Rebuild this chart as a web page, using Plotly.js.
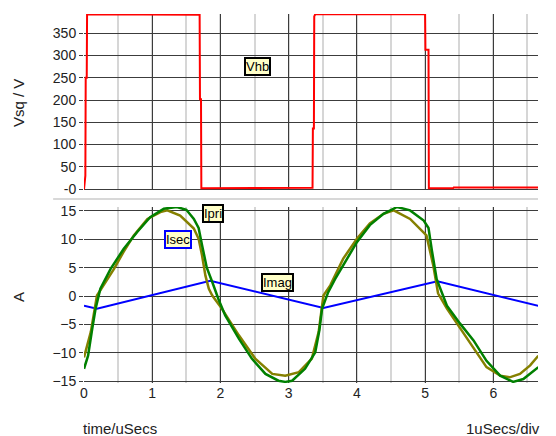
<!DOCTYPE html>
<html>
<head>
<meta charset="utf-8">
<script src="https://cdn.plot.ly/plotly-3.0.1.min.js"></script>
<style>html,body{margin:0;padding:0;background:#fff;}#chart{width:556px;height:436px;}</style>
</head>
<body>
<div id="chart"></div>
<script>
// Vhb square wave (top panel)
const vhbT = [0, 0.01, 0.02, 0.025, 0.04, 0.045, 0.45, 0.46, 1.695, 1.70, 1.715, 1.72, 2.10, 2.11, 3.35, 3.355, 3.37, 3.375, 3.39, 5.00, 5.005, 5.05, 5.055, 5.41, 5.42, 6.66];
const vhbV = [-1, 30, 30, 250, 250, 393, 393, 391.5, 392, 202, 202, 1.6, 1.6, 3, 3, 136, 136, 388, 393, 393, 313, 313, 1.6, 1.6, 3.5, 3.5];

// Imag (blue triangle)
const imagT = [0, 0.19, 1.85, 3.51, 5.18, 6.66];
const imagV = [-1.7, -2.2, 2.7, -2.1, 2.6, -1.7];

// Ipri (green)
const ipriT = [0, 0.06, 0.12, 0.17, 0.24, 0.39, 0.58, 0.78, 0.97, 1.17, 1.36, 1.50, 1.61, 1.68, 1.73, 1.80, 1.88, 1.97, 2.07, 2.27, 2.46, 2.66, 2.85, 2.95, 3.05, 3.24, 3.39, 3.45, 3.49, 3.58, 3.68, 3.80, 4.00, 4.19, 4.39, 4.59, 4.78, 4.98, 5.05, 5.10, 5.17, 5.32, 5.51, 5.71, 5.90, 6.10, 6.29, 6.44, 6.56, 6.66];
const ipriV = [-12.8, -10.5, -5.8, -2.2, 1.3, 4.8, 8.3, 11.3, 13.9, 15.4, 15.7, 15.2, 13.6, 12.0, 9.0, 5.0, 2.5, -0.5, -3.4, -7.5, -11.0, -13.7, -14.9, -15.1, -14.9, -12.8, -9.9, -6.0, -2.2, 0.7, 3.0, 5.4, 9.5, 12.5, 14.5, 15.7, 15.1, 13.3, 12.0, 8.0, 3.0, -1.7, -4.8, -7.8, -11.4, -14.0, -15.1, -14.6, -13.4, -12.5];

// Isec (olive)
const isecT = [0, 0.10, 0.19, 0.29, 0.44, 0.58, 0.73, 0.93, 1.12, 1.22, 1.41, 1.61, 1.68, 1.73, 1.78, 1.83, 1.88, 2.02, 2.27, 2.51, 2.76, 2.95, 3.15, 3.34, 3.44, 3.49, 3.51, 3.61, 3.80, 4.00, 4.19, 4.39, 4.54, 4.78, 5.02, 5.12, 5.19, 5.32, 5.51, 5.71, 5.90, 6.10, 6.24, 6.39, 6.54, 6.66];
const isecV = [-10.8, -6.3, 0.1, 1.9, 4.8, 7.8, 10.7, 13.6, 14.8, 15.1, 14.2, 11.9, 10.1, 7.2, 3.6, 1.3, 0.1, -2.2, -6.9, -11.0, -13.7, -14.0, -13.4, -11.0, -6.3, -1.7, 0.1, 1.9, 6.6, 10.1, 12.8, 14.5, 15.1, 13.6, 10.7, 5.4, 0.5, -2.2, -5.6, -9.0, -12.5, -14.0, -14.3, -13.7, -12.2, -10.5];

const xTickVals = [0, 1, 2, 3, 4, 5, 6];
const topTickVals = [0, 50, 100, 150, 200, 250, 300, 350];
const topTickText = ['-0', '50', '100', '150', '200', '250', '300', '350'];
const botTickVals = [-15, -10, -5, 0, 5, 10, 15];

const FONT = 'Liberation Sans, Arial, sans-serif';
const GRID = '#3c3c3c';
const TICKFONT = {family: FONT, size: 14, color: '#222'};
const TITLEFONT = {family: FONT, size: 15, color: '#222'};
const LABELFONT = {family: FONT, size: 13, color: '#000'};

const traces = [
  {x: vhbT, y: vhbV, xaxis: 'x2', yaxis: 'y2', mode: 'lines', name: 'Vhb',
   line: {color: '#ff0000', width: 2}},
  {x: imagT, y: imagV, xaxis: 'x', yaxis: 'y', mode: 'lines', name: 'Imag',
   line: {color: '#0000ff', width: 2}},
  {x: isecT, y: isecV, xaxis: 'x', yaxis: 'y', mode: 'lines', name: 'Isec',
   line: {color: '#858000', width: 2.5}},
  {x: ipriT, y: ipriV, xaxis: 'x', yaxis: 'y', mode: 'lines', name: 'Ipri',
   line: {color: '#008000', width: 2.5}}
];

const xBase = {
  range: [0, 6.655], tickvals: xTickVals, showgrid: true, gridcolor: GRID, gridwidth: 1,
  zeroline: false, showline: false, ticks: '',
  minor: {dtick: 0.5, tick0: 0, showgrid: true, gridcolor: '#d6d6d6', gridwidth: 2, ticks: ''},
  tickfont: TICKFONT
};

const layout = {
  width: 556, height: 436,
  margin: {l: 84, r: 18, t: 14, b: 53},
  paper_bgcolor: '#ffffff', plot_bgcolor: '#ffffff',
  showlegend: false,
  font: {family: FONT, size: 12, color: '#222'},
  xaxis: Object.assign({}, xBase, {anchor: 'y', domain: [0, 1]}),
  xaxis2: Object.assign({}, xBase, {anchor: 'y2', matches: 'x', showticklabels: false}),
  yaxis: {domain: [0, 0.477], range: [-15.3, 15.7], tickvals: botTickVals,
          showgrid: true, gridcolor: GRID, gridwidth: 1, zeroline: false,
          ticks: 'outside', ticklen: 4, tickcolor: GRID, tickfont: TICKFONT},
  yaxis2: {domain: [0.523, 1], range: [-2.25, 393.5], tickvals: topTickVals, ticktext: topTickText,
           showgrid: true, gridcolor: GRID, gridwidth: 1, zeroline: false,
           ticks: 'outside', ticklen: 4, tickcolor: GRID, tickfont: TICKFONT},
  shapes: [
    {type: 'line', xref: 'paper', yref: 'paper', x0: -0.068, x1: 1, y0: 0.4986, y1: 0.4986,
     line: {color: '#d8d8d8', width: 2}}
  ],
  annotations: [
    {text: 'Vsq / V', xref: 'paper', yref: 'paper', x: -0.1454, y: 0.7588, textangle: -90,
     showarrow: false, xanchor: 'center', yanchor: 'middle', font: TITLEFONT},
    {text: 'A', xref: 'paper', yref: 'paper', x: -0.1454, y: 0.233, textangle: -90,
     showarrow: false, xanchor: 'center', yanchor: 'middle', font: TITLEFONT},
    {text: 'time/uSecs', xref: 'paper', yref: 'paper', x: 0.0793, y: -0.122,
     showarrow: false, xanchor: 'center', yanchor: 'middle', font: TITLEFONT},
    {text: '1uSecs/div', xref: 'paper', yref: 'paper', x: 0.923, y: -0.122,
     showarrow: false, xanchor: 'center', yanchor: 'middle', font: TITLEFONT},
    {text: 'Vhb', xref: 'x2', yref: 'y2', x: 2.54, y: 276, showarrow: false,
     bgcolor: '#ffffc8', bordercolor: '#000', borderwidth: 2, borderpad: 0,
     font: LABELFONT},
    {text: 'Ipri', xref: 'x', yref: 'y', x: 1.89, y: 14.5, showarrow: false,
     bgcolor: '#ffffc8', bordercolor: '#000', borderwidth: 2, borderpad: 0,
     font: LABELFONT},
    {text: 'Isec', xref: 'x', yref: 'y', x: 1.38, y: 10.0, showarrow: false,
     bgcolor: '#ffffc8', bordercolor: '#0000ff', borderwidth: 2, borderpad: 0,
     font: LABELFONT},
    {text: 'Imag', xref: 'x', yref: 'y', x: 2.83, y: 2.35, showarrow: false,
     bgcolor: '#ffffc8', bordercolor: '#000', borderwidth: 2, borderpad: 0,
     font: LABELFONT}
  ]
};

Plotly.newPlot('chart', traces, layout, {displayModeBar: false, staticPlot: true});
</script>
</body>
</html>
